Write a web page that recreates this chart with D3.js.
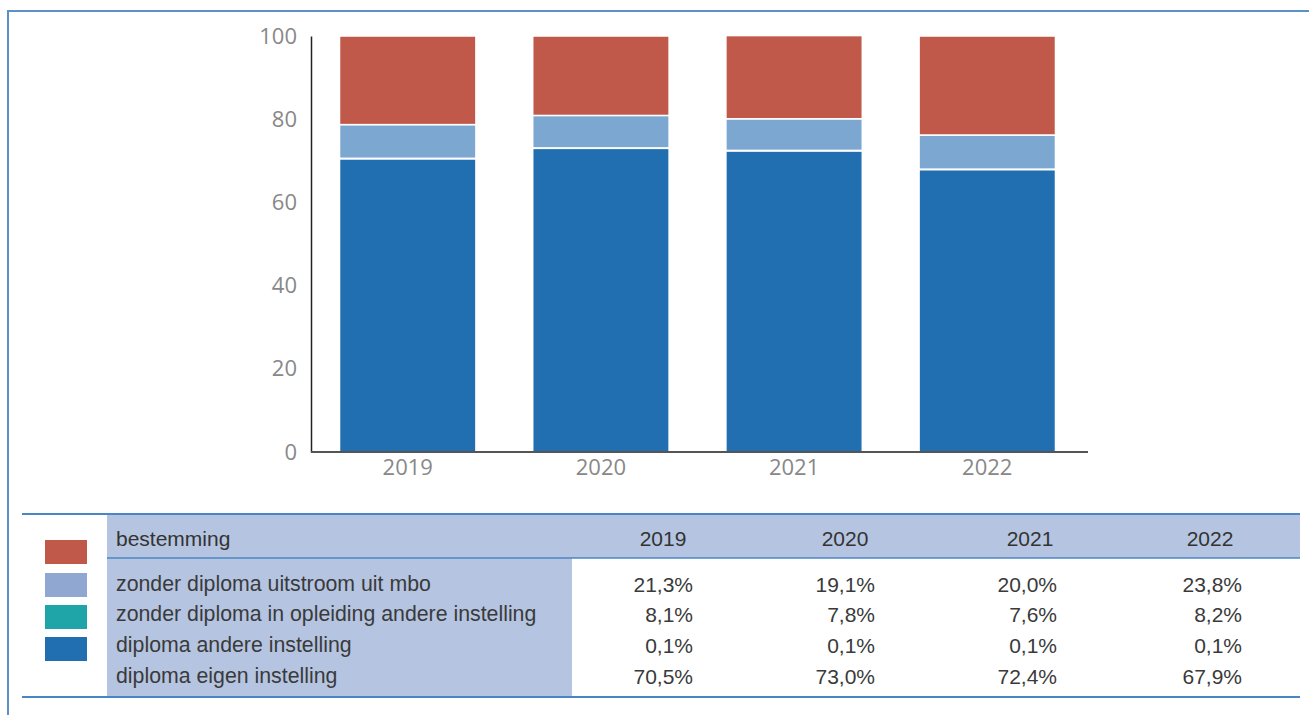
<!DOCTYPE html>
<html>
<head>
<meta charset="utf-8">
<script src="https://cdn.jsdelivr.net/npm/d3@7"></script>
<style>
  body { margin: 0; background: #fff; }
</style>
</head>
<body>
<div id="chart"></div>
<script>
const width = 1309;
const height = 715;

// data
const years = ["2019", "2020", "2021", "2022"];
const seriesNames = [
    "zonder diploma uitstroom uit mbo",
    "zonder diploma in opleiding andere instelling",
    "diploma andere instelling",
    "diploma eigen instelling"
];
const uitstroom = [21.3, 19.1, 20.0, 23.8];
const opleidingAndere = [8.1, 7.8, 7.6, 8.2];
const diplomaAndere = [0.1, 0.1, 0.1, 0.1];
const diplomaEigen = [70.5, 73.0, 72.4, 67.9];
const yTicks = [0, 20, 40, 60, 80, 100];

// same order as seriesNames
const seriesValues = [uitstroom, opleidingAndere, diplomaAndere, diplomaEigen];
const barColors = ["#c0594a", "#7ba7d0", "#1fa5a8", "#216fb0"];
const swatchColors = ["#c0594a", "#90a7d1", "#1fa5a8", "#216fb0"];

const svg = d3.select("#chart")
    .append("svg")
    .attr("width", width)
    .attr("height", height);

// frame
svg.append("path")
    .attr("d", "M8,715V11H1309")
    .attr("fill", "none")
    .attr("stroke", "#5b91c4")
    .attr("stroke-width", 2);

// ------------------
// scales
// ------------------
const x = d3.scaleBand()
    .domain(years)
    .range([309, 1086])
    .paddingInner(0.294)
    .paddingOuter(0.158);

const y = d3.scaleLinear()
    .domain([0, 100])
    .range([452, 36]);

// stack bottom -> top: eigen, andere, opleiding, uitstroom
const rows = years.map((yr, i) => {
    const r = { year: yr };
    seriesNames.forEach((s, k) => r[s] = seriesValues[k][i]);
    return r;
});
const stackKeys = seriesNames.slice().reverse();
const stacked = d3.stack().keys(stackKeys)(rows);
const colorOf = d3.scaleOrdinal().domain(seriesNames).range(barColors);

svg.append("g")
    .selectAll("g")
    .data(stacked)
    .enter()
    .append("g")
    .attr("fill", d => colorOf(d.key))
    .selectAll("rect")
    .data(d => d)
    .enter()
    .append("rect")
    .attr("x", d => x(d.data.year))
    .attr("width", x.bandwidth())
    .attr("y", d => y(d[1]))
    .attr("height", d => y(d[0]) - y(d[1]))
    .attr("stroke", "#fff")
    .attr("stroke-width", 1.5);

// axes
const yAxis = svg.append("g")
    .attr("transform", "translate(311,0)")
    .call(d3.axisLeft(y).tickValues(yTicks).tickSize(0).tickPadding(14));
yAxis.select(".domain").attr("stroke", "#222").attr("stroke-width", 1.5);
yAxis.selectAll("text")
    .style("font-family", "'Open Sans', sans-serif")
    .style("font-size", "22px")
    .attr("fill", "#888");

const xAxis = svg.append("g")
    .attr("transform", "translate(0,452)")
    .call(d3.axisBottom(x).tickSize(0).tickPadding(7));
xAxis.select(".domain").remove();
xAxis.append("line")
    .attr("x1", 311).attr("x2", 1088)
    .attr("stroke", "#555").attr("stroke-width", 2);
xAxis.selectAll("text")
    .style("font-family", "'Open Sans', sans-serif")
    .style("font-size", "22px")
    .attr("fill", "#888");

// ------------------
// table
// ------------------
const tbl = svg.append("g");
const font = "'Liberation Sans', Arial, sans-serif";
const colRight = [693, 875, 1057, 1242];
const colCenter = [663, 845, 1030, 1210];
const rowY = [584, 614, 645, 676];

tbl.append("rect")
    .attr("x", 107).attr("y", 515)
    .attr("width", 1193).attr("height", 43)
    .attr("fill", "#b5c5e1");
tbl.append("rect")
    .attr("x", 107).attr("y", 558)
    .attr("width", 465).attr("height", 139)
    .attr("fill", "#b5c5e1");

[514, 697].forEach(ly => {
    tbl.append("line")
        .attr("x1", 22).attr("x2", 1300)
        .attr("y1", ly).attr("y2", ly)
        .attr("stroke", "#4a86c5")
        .attr("stroke-width", 2);
});
tbl.append("line")
    .attr("x1", 107).attr("x2", 1300)
    .attr("y1", 558).attr("y2", 558)
    .attr("stroke", "#4a86c5")
    .attr("stroke-width", 1.5);

// legend swatches
const swatchY = [540, 573, 605, 637];
swatchColors.forEach((c, i) => {
    tbl.append("rect")
        .attr("x", 45).attr("y", swatchY[i])
        .attr("width", 42).attr("height", 24)
        .attr("fill", c);
});

tbl.append("text")
    .attr("x", 116).attr("y", 538)
    .attr("dominant-baseline", "central")
    .style("font-family", font).style("font-size", "21px")
    .attr("fill", "#333")
    .text("bestemming");

years.forEach((yr, j) => {
    tbl.append("text")
        .attr("x", colCenter[j]).attr("y", 538)
        .attr("text-anchor", "middle")
        .attr("dominant-baseline", "central")
        .style("font-family", font).style("font-size", "21px")
        .attr("fill", "#333")
        .text(yr);
});

const fmt = v => d3.format(".1f")(v).replace(".", ",") + "%";

seriesNames.forEach((s, i) => {
    tbl.append("text")
        .attr("x", 116).attr("y", rowY[i])
        .attr("dominant-baseline", "central")
        .style("font-family", font).style("font-size", "21.3px")
        .attr("fill", "#3a3a3a")
        .text(s);
    seriesValues[i].forEach((v, j) => {
        tbl.append("text")
            .attr("x", colRight[j]).attr("y", rowY[i])
            .attr("text-anchor", "end")
            .attr("dominant-baseline", "central")
            .style("font-family", font).style("font-size", "21px")
            .attr("fill", "#3a3a3a")
            .text(fmt(v));
    });
});
</script>
</body>
</html>
